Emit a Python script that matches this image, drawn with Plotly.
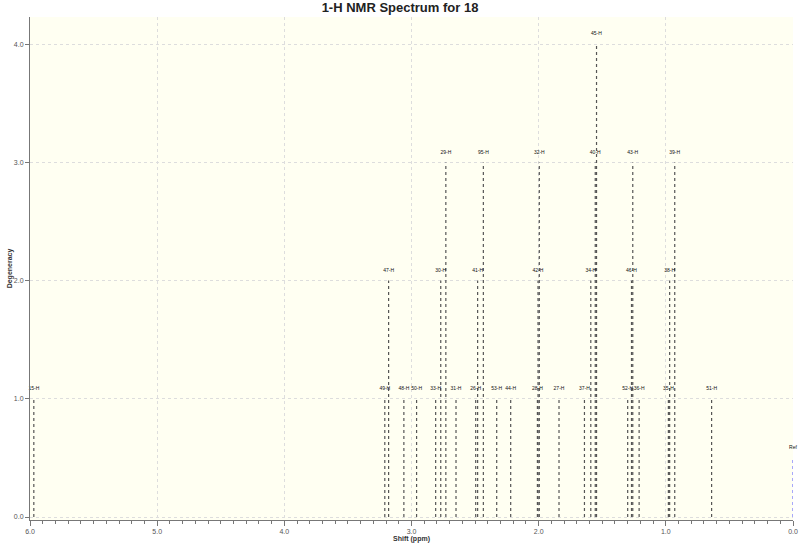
import plotly.graph_objects as go

labels = ["15-H", "49-H", "47-H", "48-H", "50-H", "33-H", "30-H", "29-H", "31-H",
          "26-H", "41-H", "95-H", "53-H", "44-H", "28-H", "42-H", "32-H", "27-H",
          "37-H", "34-H", "40-H", "45-H", "52-H", "46-H", "43-H", "36-H", "35-H",
          "38-H", "39-H", "51-H"]
shifts = [5.97, 3.21, 3.18, 3.06, 2.96, 2.81, 2.77, 2.73, 2.65,
          2.495, 2.48, 2.435, 2.33, 2.22, 2.01, 2.005, 1.995, 1.84,
          1.64, 1.59, 1.555, 1.545, 1.30, 1.27, 1.26, 1.21, 0.98,
          0.97, 0.93, 0.64]
degeneracy = [1, 1, 2, 1, 1, 1, 2, 3, 1,
              1, 2, 3, 1, 1, 1, 2, 3, 1,
              1, 2, 3, 4, 1, 2, 3, 1, 1,
              2, 3, 1]
ref_label = "Ref"
ref_shift = 0.0
ref_height = 0.5

xs, ys = [], []
for s, d in zip(shifts, degeneracy):
    xs += [s, s, None]
    ys += [0, d, None]

fig = go.Figure()
fig.add_trace(go.Scatter(x=xs, y=ys, mode="lines",
                         line=dict(color="#555555", width=1.2, dash="dot"),
                         hoverinfo="skip", showlegend=False, cliponaxis=False))
fig.add_trace(go.Scatter(x=[ref_shift, ref_shift], y=[0, ref_height], mode="lines",
                         line=dict(color="#6f6fff", width=1.2, dash="dot"),
                         hoverinfo="skip", showlegend=False, cliponaxis=False))
fig.add_trace(go.Scatter(x=shifts + [ref_shift],
                         y=[d + 0.085 for d in degeneracy] + [ref_height + 0.085],
                         mode="text", text=labels + [ref_label],
                         textfont=dict(size=5, color="#111111", family="Liberation Sans"),
                         hoverinfo="skip", showlegend=False, cliponaxis=False))

axis_font = dict(size=7, color="#555555", family="Liberation Sans")
fig.update_layout(
    width=800, height=543,
    margin=dict(l=30, r=7, t=17, b=23, autoexpand=False),
    paper_bgcolor="white",
    plot_bgcolor="#fffff2",
    title=dict(text="<b>1-H NMR Spectrum for 18</b>", x=0.5, xanchor="center",
               y=0.987, yanchor="middle",
               font=dict(size=13, color="#222222", family="Liberation Sans")),
    xaxis=dict(range=[6.0, 0.0], dtick=1.0, tick0=0, tickformat=".1f",
               automargin=False,
               showgrid=True, gridcolor="#dddddd", griddash="dot", gridwidth=1,
               zeroline=False, showline=True, linecolor="#777777", linewidth=1,
               ticks="outside", ticklen=5, tickcolor="#777777",
               tickfont=axis_font,
               minor=dict(dtick=0.1, ticks="outside", ticklen=3, tickcolor="#777777",
                          showgrid=False),
               title=dict(text="<b>Shift (ppm)</b>", standoff=0,
                          font=dict(size=7, color="#333333", family="Liberation Sans"))),
    yaxis=dict(range=[-0.025, 4.23], dtick=1.0, tick0=0, tickformat=".1f",
               automargin=False,
               showgrid=True, gridcolor="#dddddd", griddash="dot", gridwidth=1,
               zeroline=False, showline=True, linecolor="#777777", linewidth=1,
               ticks="outside", ticklen=4, tickcolor="#777777",
               tickfont=axis_font,
               title=dict(text="<b>Degeneracy</b>", standoff=0,
                          font=dict(size=7, color="#333333", family="Liberation Sans"))),
)

fig.write_html("out.html", config={"displayModeBar": False},
               post_script="document.body.style.margin='0';document.body.style.overflow='hidden';")
